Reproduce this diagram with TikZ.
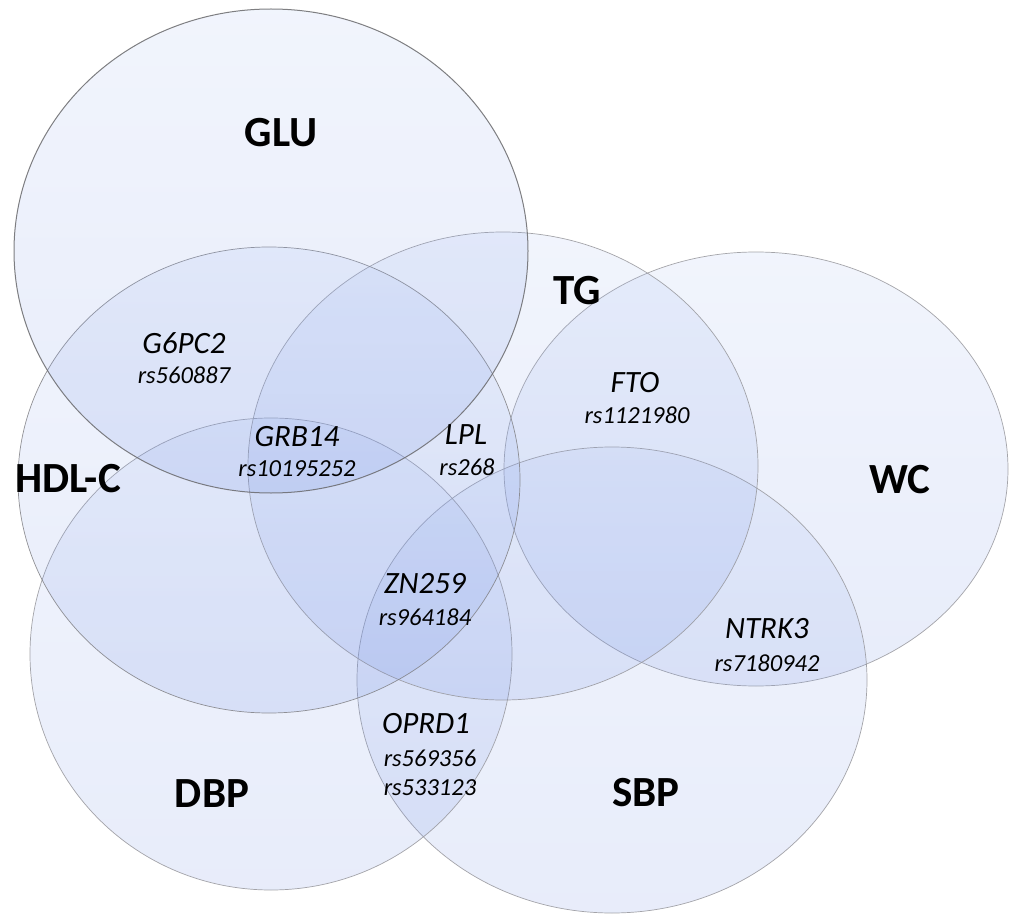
\documentclass[tikz,border=0pt]{standalone}
\usepackage{fontspec}
\setmainfont{Carlito}
\usetikzlibrary{shapes.geometric}
\definecolor{vtop}{RGB}{165,188,242}
\definecolor{vbot}{RGB}{100,132,225}
\definecolor{vline}{RGB}{150,150,155}
\tikzset{
  setshape/.style={ellipse, inner sep=0pt, outer sep=0pt, draw=vline, line width=0.7pt,
    top color=vtop, bottom color=vbot, fill opacity=0.15, draw opacity=0.85},
  setlabel/.style={font=\fontsize{43}{43}\selectfont\bfseries, inner sep=0pt},
  gene/.style={font=\fontsize{31}{31}\selectfont\itshape, inner sep=0pt},
  snp/.style={font=\fontsize{24.5}{24.5}\selectfont\itshape, inner sep=0pt},
}
\begin{document}
\begin{tikzpicture}[x=1pt,y=-1pt]
\fill[white] (0,0) rectangle (1013,915);
\useasboundingbox (0,0) rectangle (1013,915);
% sets
\node[setshape, minimum width=504pt, minimum height=434pt] (wc)  at (756,469) {};
\node[setshape, minimum width=510pt, minimum height=466pt] (sbp) at (612,680) {};
\node[setshape, minimum width=482pt, minimum height=472pt] (dbp) at (271,654) {};
\node[setshape, minimum width=510pt, minimum height=468pt] (tg)  at (503,466) {};
\node[setshape, minimum width=502pt, minimum height=466pt, draw=vline!85!black] (hdl) at (269,480) {};
\node[setshape, minimum width=514pt, minimum height=484pt, draw=vline!70!black, line width=1pt] (glu) at (271,251) {};
% set labels
\node[setlabel] (lglu) at (281,133) {GLU};
\node[setlabel] (ltg)  at (577,291) {TG};
\node[setlabel] (lhdl) at (68,479) {HDL-C};
\node[setlabel] (lwc)  at (900,480) {WC};
\node[setlabel] (ldbp) at (212,794) {DBP};
\node[setlabel] (lsbp) at (646,793) {SBP};
% genes and SNPs
\node[gene] (g6pc2) at (184,343) {G6PC2};
\node[snp]  (s1)    at (184,375) {rs560887};
\node[gene] (grb14) at (297,437) {GRB14};
\node[snp]  (s2)    at (297,469) {rs10195252};
\node[gene] (lpl)   at (466,435) {LPL};
\node[snp]  (s3)    at (467,467) {rs268};
\node[gene] (fto)   at (635,383) {FTO};
\node[snp]  (s4)    at (637,415) {rs1121980};
\node[gene] (zn259) at (425,584) {ZN259};
\node[snp]  (s5)    at (425,617) {rs964184};
\node[gene] (ntrk3) at (767,629) {NTRK3};
\node[snp]  (s6)    at (767,663) {rs7180942};
\node[gene] (oprd1) at (426,724) {OPRD1};
\node[snp]  (s7)    at (430,758) {rs569356};
\node[snp]  (s8)    at (430,788) {rs533123};
\end{tikzpicture}
\end{document}
